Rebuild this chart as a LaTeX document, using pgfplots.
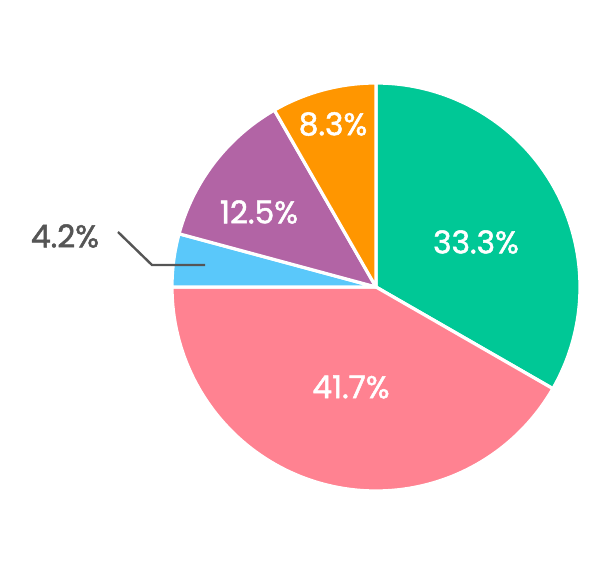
\documentclass[border=0pt]{standalone}
\usepackage{pgfplots}
\pgfplotsset{compat=1.18}
\usepackage{fontspec}
\setmainfont{Poppins}
\newfontfamily\lbl{Poppins}[FakeBold=1.6]
\definecolor{cgreen}{RGB}{0,200,150}
\definecolor{cpink}{RGB}{255,130,145}
\definecolor{cblue}{RGB}{90,200,250}
\definecolor{cpurple}{RGB}{178,100,165}
\definecolor{corange}{RGB}{255,150,0}
\definecolor{cgray}{RGB}{85,85,85}
% slice values (percent), clockwise from 12 o'clock
\def\vA{33.3}\def\vB{41.7}\def\vC{4.2}\def\vD{12.5}\def\vE{8.3}
\begin{document}
\begin{tikzpicture}
\pgfmathsetmacro{\sA}{90}
\pgfmathsetmacro{\eA}{\sA-3.6*\vA}
\pgfmathsetmacro{\eB}{\eA-3.6*\vB}
\pgfmathsetmacro{\eC}{\eB-3.6*\vC}
\pgfmathsetmacro{\eD}{\eC-3.6*\vD}
\pgfmathsetmacro{\eE}{\eD-3.6*\vE}
\begin{axis}[
  width=456pt, height=429pt, scale only axis,
  xmin=0, xmax=608, ymin=-572, ymax=0,
  hide axis, clip=false,
  every axis plot/.append style={draw=white, line width=2.4pt, line join=round, samples=90, variable=\t},
]
\path (rel axis cs:0,0) rectangle (rel axis cs:1,1);
\addplot[fill=cgreen, domain=\eA:\sA] ({376+204*cos(\t)},{-287+204*sin(\t)}) -- (axis cs:376,-287) -- cycle;
\addplot[fill=cpink, domain=\eB:\eA] ({376+204*cos(\t)},{-287+204*sin(\t)}) -- (axis cs:376,-287) -- cycle;
\addplot[fill=cblue, domain=\eC:\eB] ({376+204*cos(\t)},{-287+204*sin(\t)}) -- (axis cs:376,-287) -- cycle;
\addplot[fill=cpurple, domain=\eD:\eC] ({376+204*cos(\t)},{-287+204*sin(\t)}) -- (axis cs:376,-287) -- cycle;
\addplot[fill=corange, domain=\eE:\eD] ({376+204*cos(\t)},{-287+204*sin(\t)}) -- (axis cs:376,-287) -- cycle;
\addplot[draw=cgray, line width=1.8pt, fill=none, line join=miter] coordinates {(118,-232) (152,-265) (205,-265)};
\node[text=white, font=\lbl\fontsize{23.5}{26}\selectfont] at (axis cs:476,-242) {33.3\%};
\node[text=white, font=\lbl\fontsize{23.5}{26}\selectfont] at (axis cs:351,-387) {41.7\%};
\node[text=white, font=\lbl\fontsize{23.5}{26}\selectfont] at (axis cs:259,-212) {12.5\%};
\node[text=white, font=\lbl\fontsize{23.5}{26}\selectfont] at (axis cs:333,-124) {8.3\%};
\node[text=cgray, font=\lbl\fontsize{23.5}{26}\selectfont] at (axis cs:65,-236) {4.2\%};
\end{axis}
\end{tikzpicture}
\end{document}
